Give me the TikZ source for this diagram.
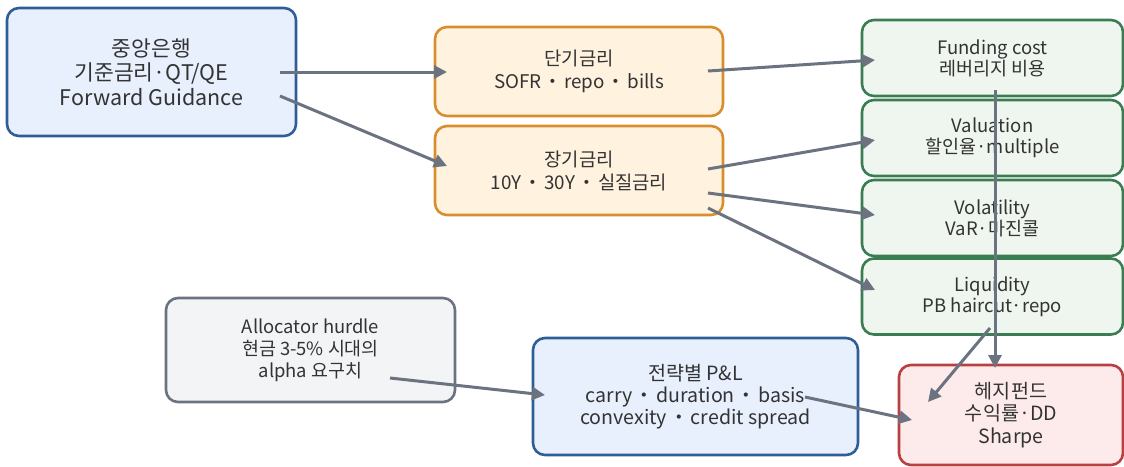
\documentclass[tikz,border=0pt]{standalone}
\usepackage{fontspec}
\setmainfont{Noto Sans CJK KR}
\usetikzlibrary{calc,arrows.meta}
\newcommand{\sepdot}{\hspace{2pt}・\hspace{2pt}}
\definecolor{txt}{HTML}{333333}
\definecolor{arrc}{HTML}{6B7280}
\definecolor{bluef}{HTML}{E8F0FE}\definecolor{blued}{HTML}{2E5E95}
\definecolor{orf}{HTML}{FFF2DF}\definecolor{ord}{HTML}{D88E2E}
\definecolor{grf}{HTML}{EFF6EF}\definecolor{grd}{HTML}{3A7D52}
\definecolor{gyf}{HTML}{F3F4F6}\definecolor{gyd}{HTML}{6B7280}
\definecolor{rdf}{HTML}{FDEBEB}\definecolor{rdd}{HTML}{B84040}
\tikzset{
  box/.style={rectangle,rounded corners=12pt,line width=2.6pt,align=center,text=txt,inner sep=0pt},
  bluebox/.style={box,fill=bluef,draw=blued},
  orbox/.style={box,fill=orf,draw=ord,minimum width=288pt,minimum height=89pt,font=\fontsize{18.8}{23}\selectfont},
  grbox/.style={box,fill=grf,draw=grd,minimum width=261pt,minimum height=76pt,font=\fontsize{18.5}{21}\selectfont},
  arr/.style={draw=arrc,line width=3pt,-{Triangle[length=13pt,width=13pt]}}
}
\begin{document}
\begin{tikzpicture}[x=1pt,y=-1pt]
\useasboundingbox (0,0) rectangle (1124,466);
\node[bluebox,minimum width=289pt,minimum height=128pt,font=\fontsize{21.5}{24.5}\selectfont] (cb) at (151.5,72) {중앙은행\\기준금리·QT/QE\\Forward Guidance};
\node[orbox] (short) at (579,71.5) {단기금리\\SOFR\sepdot repo\sepdot bills};
\node[orbox] (long) at (579,170.5) {장기금리\\10Y\sepdot 30Y\sepdot 실질금리};
\node[grbox] (fund) at (992.5,58) {Funding cost\\레버리지 비용};
\node[grbox] (val) at (992.5,138) {Valuation\\할인율·multiple};
\node[grbox] (vol) at (992.5,218) {Volatility\\VaR·마진콜};
\node[grbox] (liq) at (992.5,296.5) {Liquidity\\PB haircut·repo};
\node[box,fill=gyf,draw=gyd,minimum width=289pt,minimum height=104pt,font=\fontsize{18.4}{22}\selectfont] (alloc) at (310.5,350) {Allocator hurdle\\현금 3-5\% 시대의\\alpha 요구치};
\node[bluebox,minimum width=325pt,minimum height=117pt,font=\fontsize{19.6}{22}\selectfont] (pnl) at (695.5,396.5) {전략별 P\&L\\carry\sepdot duration\sepdot basis\\convexity\sepdot credit spread};
\node[box,fill=rdf,draw=rdd,minimum width=224pt,minimum height=100pt,font=\fontsize{19.6}{22.5}\selectfont] (hf) at (1011,415) {헤지펀드\\수익률·DD\\Sharpe};
\draw[arr] ($(cb)+(128.5,0)$) -- ($(short)+(-132,0.5)$);
\draw[arr] ($(cb)+(128.5,24)$) -- ($(long)+(-132,-4.5)$);
\draw[arr] ($(short)+(129,-0.5)$) -- ($(fund)+(-117.5,2)$);
\draw[arr] ($(long)+(129,-1.5)$) -- ($(val)+(-117.5,2)$);
\draw[arr] ($(long)+(129,22.5)$) -- ($(vol)+(-117.5,-3)$);
\draw[arr] ($(long)+(129,37.5)$) -- ($(liq)+(-117.5,-6.5)$);
\draw[arr] ($(fund)+(2.5,32)$) -- ($(hf)+(-16,-47)$);
\draw[arr] ($(liq)+(-2.5,31.5)$) -- ($(hf)+(-83,-13)$);
\draw[arr] ($(alloc)+(79.5,28)$) -- ($(pnl)+(-150.5,-1.5)$);
\draw[arr] ($(pnl)+(109.5,0.5)$) -- ($(hf)+(-99,5)$);
\end{tikzpicture}
\end{document}
